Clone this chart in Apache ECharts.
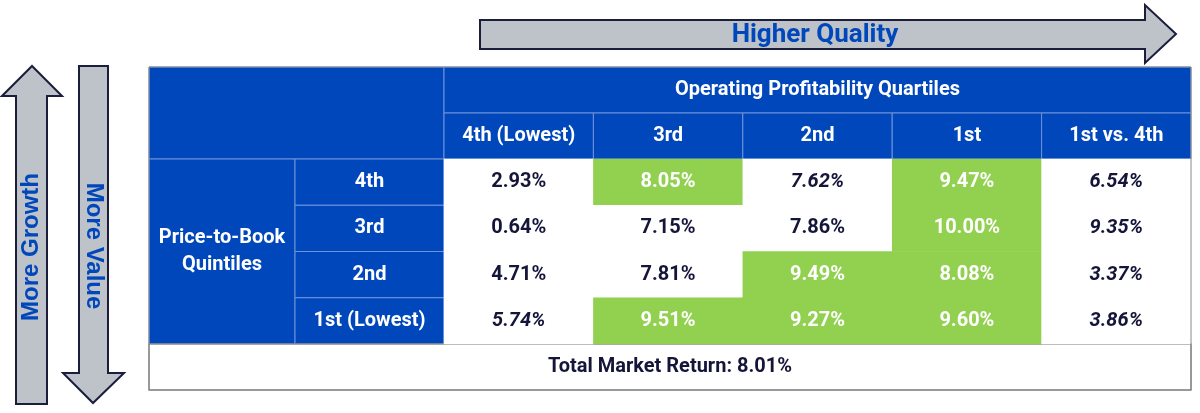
<!DOCTYPE html>
<html>
<head>
<meta charset="utf-8">
<style>
  html, body { margin: 0; padding: 0; background: #fff; }
  #main { width: 1200px; height: 413px; }
</style>
<script src="https://cdn.jsdelivr.net/npm/echarts@6/dist/echarts.min.js"></script>
</head>
<body>
<div id="main"></div>
<script>
// column / row labels
var colLabels = ['4th (Lowest)', '3rd', '2nd', '1st', '1st vs. 4th'];
var rowLabels = ['4th', '3rd', '2nd', '1st (Lowest)'];

// returns (%) per price-to-book row, by profitability column
var row4th = [2.93, 8.05, 7.62, 9.47, 6.54];
var row3rd = [0.64, 7.15, 7.86, 10.00, 9.35];
var row2nd = [4.71, 7.81, 9.49, 8.08, 3.37];
var row1st = [5.74, 9.51, 9.27, 9.60, 3.86];
var rowValues = [row4th, row3rd, row2nd, row1st];

// which values are printed in italic
var italic4th = [false, false, true, false, true];
var italic3rd = [false, false, false, false, true];
var italic2nd = [false, false, false, false, true];
var italic1st = [true, false, false, false, true];
var rowItalic = [italic4th, italic3rd, italic2nd, italic1st];

var marketReturn = 8.01;

var BLUE = '#0047BB';
var GREEN = '#92D050';
var LINE = '#6f93db';
var NAVY = '#15153a';
var ARROW = '#bdc3c8';
var FONT = 'Roboto';
var FS = 20;

// table geometry
var tblLeft = 149, tblRight = 1191, tblTop = 67;
var head1 = 113, head2 = 159, dataBottom = 344, tblBottom = 390;
var pbRight = 295, dataLeft = 444;
var colW = (tblRight - dataLeft) / colLabels.length;
var rowH = (dataBottom - head2) / rowLabels.length;

var chart = echarts.init(document.getElementById('main'));

var data = [];
for (let r = 0; r < rowValues.length; r++) {
  for (let c = 0; c < colLabels.length; c++) {
    let v = rowValues[r][c];
    let hi = c < 4 && v > marketReturn;
    data.push({
      value: [c, r, v],
      itemStyle: { color: hi ? GREEN : '#ffffff' },
      label: {
        color: hi ? '#ffffff' : NAVY,
        fontStyle: rowItalic[r][c] ? 'italic' : 'normal'
      }
    });
  }
}

function rect(x, y, w, h, fill) {
  return {
    type: 'rect', shape: { x: x, y: y, width: w, height: h },
    style: { fill: fill, stroke: LINE, lineWidth: 1 }, silent: true
  };
}
function txt(x, y, s, opt) {
  opt = opt || {};
  return {
    type: 'text', x: x, y: y, silent: true, rotation: opt.rotation || 0,
    style: {
      text: s, fill: opt.fill || '#fff', align: 'center', verticalAlign: 'middle',
      fontWeight: 'bold', fontSize: opt.size || FS, fontFamily: opt.family || FONT,
      lineHeight: opt.lineHeight
    }
  };
}

var graphics = [];
// header block
graphics.push(rect(tblLeft, tblTop, dataLeft - tblLeft, head2 - tblTop, BLUE));
graphics.push(rect(dataLeft, tblTop, tblRight - dataLeft, head1 - tblTop, BLUE));
graphics.push(txt((dataLeft + tblRight) / 2, (tblTop + head1) / 2, 'Operating Profitability Quartiles'));
for (let c = 0; c < colLabels.length; c++) {
  graphics.push(rect(dataLeft + c * colW, head1, colW, head2 - head1, BLUE));
  graphics.push(txt(dataLeft + (c + 0.5) * colW, (head1 + head2) / 2, colLabels[c]));
}
// row headers
graphics.push(rect(tblLeft, head2, pbRight - tblLeft, dataBottom - head2, BLUE));
graphics.push(txt((tblLeft + pbRight) / 2, (head2 + dataBottom) / 2, 'Price-to-Book\nQuintiles', { lineHeight: 27 }));
for (let r = 0; r < rowLabels.length; r++) {
  graphics.push(rect(pbRight, head2 + r * rowH, dataLeft - pbRight, rowH, BLUE));
  graphics.push(txt((pbRight + dataLeft) / 2, head2 + (r + 0.5) * rowH, rowLabels[r]));
}
// total market row + outer border
graphics.push({
  type: 'rect', shape: { x: tblLeft, y: dataBottom, width: tblRight - tblLeft, height: tblBottom - dataBottom },
  style: { fill: '#fff', stroke: '#8a8a8a', lineWidth: 1.5 }, silent: true
});
graphics.push(txt((tblLeft + tblRight) / 2, (dataBottom + tblBottom) / 2,
  'Total Market Return: ' + marketReturn.toFixed(2) + '%', { fill: NAVY }));
graphics.push({
  type: 'rect', shape: { x: tblLeft, y: tblTop, width: tblRight - tblLeft, height: tblBottom - tblTop },
  style: { fill: 'none', stroke: '#8a8a8a', lineWidth: 1 }, silent: true, z: 10
});

// arrows
var arrowStyle = { fill: ARROW, stroke: '#1b1d3c', lineWidth: 2 };
graphics.push({
  type: 'polygon', silent: true, style: arrowStyle,
  shape: { points: [[480, 20], [1145, 20], [1145, 5], [1176, 34], [1145, 63], [1145, 49], [480, 49]] }
});
graphics.push(txt(815, 35, 'Higher Quality', { fill: BLUE, size: 26 }));
graphics.push({
  type: 'polygon', silent: true, style: arrowStyle,
  shape: { points: [[16, 404], [16, 96], [2, 96], [32, 66], [62, 96], [47, 96], [47, 404]] }
});
graphics.push(txt(31, 247, 'More Growth', { fill: BLUE, size: 24, family: 'Liberation Sans', rotation: Math.PI / 2 }));
graphics.push({
  type: 'polygon', silent: true, style: arrowStyle,
  shape: { points: [[79, 66], [108, 66], [108, 373], [124, 373], [93, 403], [63, 373], [79, 373]] }
});
graphics.push(txt(94, 246, 'More Value', { fill: BLUE, size: 24, family: 'Liberation Sans', rotation: -Math.PI / 2 }));

var option = {
  animation: false,
  grid: { left: dataLeft, top: head2, width: tblRight - dataLeft, height: dataBottom - head2 },
  xAxis: { type: 'category', data: colLabels, show: false },
  yAxis: { type: 'category', data: rowLabels, inverse: true, show: false },
  series: [{
    type: 'heatmap',
    data: data,
    itemStyle: { borderWidth: 0 },
    label: {
      show: true,
      fontFamily: FONT,
      fontWeight: 'bold',
      fontSize: FS,
      formatter: function (p) { return p.value[2].toFixed(2) + '%'; }
    }
  }],
  graphic: graphics
};
chart.setOption(option);
</script>
</body>
</html>
